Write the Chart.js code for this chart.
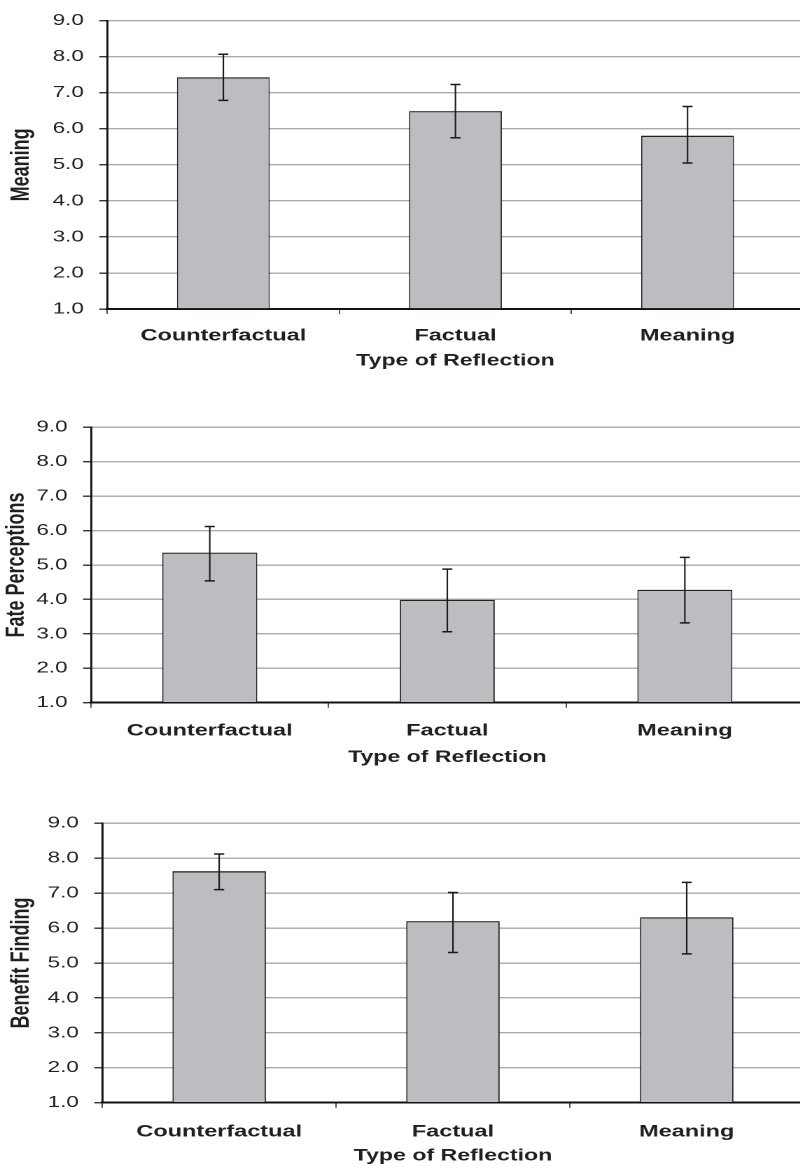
<!DOCTYPE html>
<html>
<head>
<meta charset="utf-8">
<script src="https://cdn.jsdelivr.net/npm/chart.js@4.4.0/dist/chart.umd.min.js"></script>
<style>
  html, body { margin: 0; padding: 0; background: #fff; width: 800px; height: 1166px; overflow: hidden; }
  .panel { position: absolute; left: 0; width: 574px; transform: scaleX(1.4); transform-origin: 0 0; }
</style>
</head>
<body>
<div class="panel" style="top:0px;height:390px"><canvas id="meaningChart"></canvas></div>
<div class="panel" style="top:390px;height:395px"><canvas id="fateChart"></canvas></div>
<div class="panel" style="top:785px;height:381px"><canvas id="benefitChart"></canvas></div>
<script>
// the original figure is stretched sideways, so every panel is drawn narrow and scaled by S
const S = 1.4;

const categories = ["Counterfactual", "Factual", "Meaning"];
const xTitle = "Type of Reflection";

const meaningMeans = [7.43, 6.49, 5.81];
const meaningLow = [6.79, 5.75, 5.05];
const meaningHigh = [8.07, 7.23, 6.62];

const fateMeans = [5.36, 3.99, 4.28];
const fateLow = [4.54, 3.06, 3.32];
const fateHigh = [6.12, 4.88, 5.22];

const benefitMeans = [7.63, 6.20, 6.31];
const benefitLow = [7.10, 5.30, 5.26];
const benefitHigh = [8.12, 7.02, 7.31];

const yMin = 1;
const yMax = 9;
const yStep = 1;

Chart.defaults.font.family = "'Liberation Sans', Arial, sans-serif";
Chart.defaults.color = '#231f20';

const errorBars = {
    id: 'errorBars',
    afterDatasetsDraw(chart, args, opts) {
        const ctx = chart.ctx;
        const x = chart.scales.x, y = chart.scales.y;
        ctx.save();
        ctx.strokeStyle = '#1a1a1a';
        opts.low.forEach((lo, i) => {
            const cx = x.getPixelForValue(i);
            const yTop = y.getPixelForValue(opts.high[i]);
            const yBot = y.getPixelForValue(lo);
            const half = 5 / S;
            ctx.lineWidth = 1.5 / S;
            ctx.beginPath();
            ctx.moveTo(cx, yTop);
            ctx.lineTo(cx, yBot);
            ctx.stroke();
            ctx.lineWidth = 1.5;
            ctx.beginPath();
            ctx.moveTo(cx - half, yTop);
            ctx.lineTo(cx + half, yTop);
            ctx.moveTo(cx - half, yBot);
            ctx.lineTo(cx + half, yBot);
            ctx.stroke();
        });
        ctx.restore();
    }
};

function makeChart(id, yLabel, means, low, high, lay) {
    return new Chart(document.getElementById(id), {
        type: 'bar',
        data: {
            labels: categories,
            datasets: [{
                data: means,
                base: yMin,
                backgroundColor: '#bcbdc0',
                borderColor: '#222',
                borderWidth: { top: 1.3, left: 1.3 / S, right: 1.3 / S, bottom: 0 },
                borderSkipped: false,
                barPercentage: 0.4,
                categoryPercentage: 1.0
            }]
        },
        options: {
            responsive: true,
            maintainAspectRatio: false,
            animation: false,
            devicePixelRatio: 2,
            layout: { padding: { top: lay.top, bottom: lay.bottom, left: 0, right: 0 } },
            plugins: {
                legend: { display: false },
                tooltip: { enabled: false },
                errorBars: { low: low, high: high }
            },
            scales: {
                x: {
                    offset: true,
                    grid: {
                        offset: true,
                        drawOnChartArea: false,
                        drawTicks: true,
                        tickLength: 5,
                        tickColor: '#333',
                        lineWidth: 1.2 / S
                    },
                    border: { display: true, color: '#111', width: 2 },
                    ticks: {
                        font: { size: 16.8, weight: 'bold' },
                        padding: lay.labelPad,
                        maxRotation: 0,
                        autoSkip: false
                    },
                    title: {
                        display: true,
                        text: xTitle,
                        font: { size: 16.5, weight: 'bold' },
                        padding: { top: 0, bottom: lay.titlePad }
                    },
                    afterFit(scale) { scale.height = lay.xHeight; }
                },
                y: {
                    min: yMin,
                    max: yMax,
                    grid: {
                        color: '#a9a9a9',
                        lineWidth: 1.4,
                        tickColor: '#333',
                        tickLength: 8 / S
                    },
                    border: { display: true, color: '#111', width: 2 / S },
                    ticks: {
                        stepSize: yStep,
                        font: { size: 16 },
                        padding: 15.5 / S,
                        callback: (v) => v.toFixed(1)
                    },
                    title: {
                        display: true,
                        text: yLabel,
                        font: { size: 18, weight: 'bold' },
                        padding: { top: lay.yTitlePad, bottom: 0 }
                    },
                    afterFit(scale) { scale.width = lay.left / S; }
                }
            }
        },
        plugins: [errorBars]
    });
}

makeChart('meaningChart', 'Meaning', meaningMeans, meaningLow, meaningHigh,
    { top: 19, bottom: 11, xHeight: 70, left: 107.3, labelPad: 11.9, titlePad: 8.1, yTitlePad: 4.9 });
makeChart('fateChart', 'Fate Perceptions', fateMeans, fateLow, fateHigh,
    { top: 37.3, bottom: 12.3, xHeight: 70, left: 91, labelPad: 13.2, titlePad: 5.1, yTitlePad: 1.3 });
makeChart('benefitChart', 'Benefit Finding', benefitMeans, benefitLow, benefitHigh,
    { top: 38.3, bottom: 0, xHeight: 63.3, left: 102.3, labelPad: 14.2, titlePad: 0, yTitlePad: 4.9 });
</script>
</body>
</html>
